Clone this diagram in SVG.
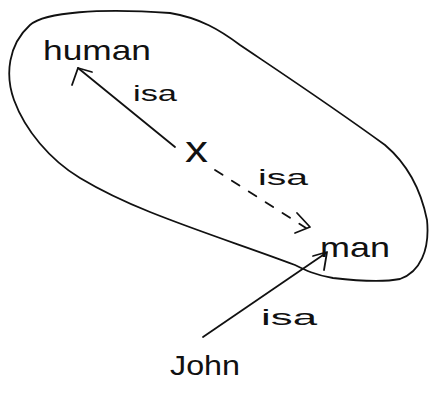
<svg xmlns="http://www.w3.org/2000/svg" width="430" height="394" viewBox="0 0 430 394">
<style>
.ln{fill:none;stroke:#111;stroke-width:1.8;stroke-linecap:round;stroke-linejoin:round}
.t{font-family:"Liberation Sans","DejaVu Sans",sans-serif;fill:#111}
.lbl{font-size:22px}
.nd{font-size:28px}
</style>
<rect width="430" height="394" fill="#fff"/>
<g id="region">
<path class="ln" d="M30,25 C45,12 100,8 170,13 C200,18 220,30 240,45 C280,72 330,105 385,145 C405,162 420,185 427,220 C430,250 420,272 400,279 C380,283 350,280 333,278 C315,275 305,270 295,265 C250,248 200,232 150,212 C120,200 100,190 80,178 C50,160 25,130 14,100 C5,75 8,45 30,25 Z"/>
</g>
<g id="connectors">
<path class="ln" d="M175,147 L78,68"/>
<path class="ln" d="M72,85 L78,68 L92,72"/>
<path class="ln" d="M215,170 L306,228" stroke-dasharray="9,11"/>
<path class="ln" d="M297,213 L310,227 L295,233"/>
<path class="ln" d="M203,337 L326,253"/>
<path class="ln" d="M313,256 L327,252 L324,270"/>
<text class="t lbl" x="133" y="101" textLength="44" lengthAdjust="spacingAndGlyphs">isa</text>
<text class="t lbl" x="258" y="185" textLength="50" lengthAdjust="spacingAndGlyphs">isa</text>
<text class="t lbl" x="261" y="325" textLength="56" lengthAdjust="spacingAndGlyphs">isa</text>
</g>
<g id="human"><text class="t nd" x="43" y="60" textLength="108" lengthAdjust="spacingAndGlyphs">human</text></g>
<g id="x"><text class="t" font-size="36" x="185" y="162" textLength="23" lengthAdjust="spacingAndGlyphs">x</text></g>
<g id="man"><text class="t nd" x="320" y="257" textLength="70" lengthAdjust="spacingAndGlyphs">man</text></g>
<g id="john"><text class="t nd" x="170" y="375" textLength="70" lengthAdjust="spacingAndGlyphs">John</text></g>
</svg>
